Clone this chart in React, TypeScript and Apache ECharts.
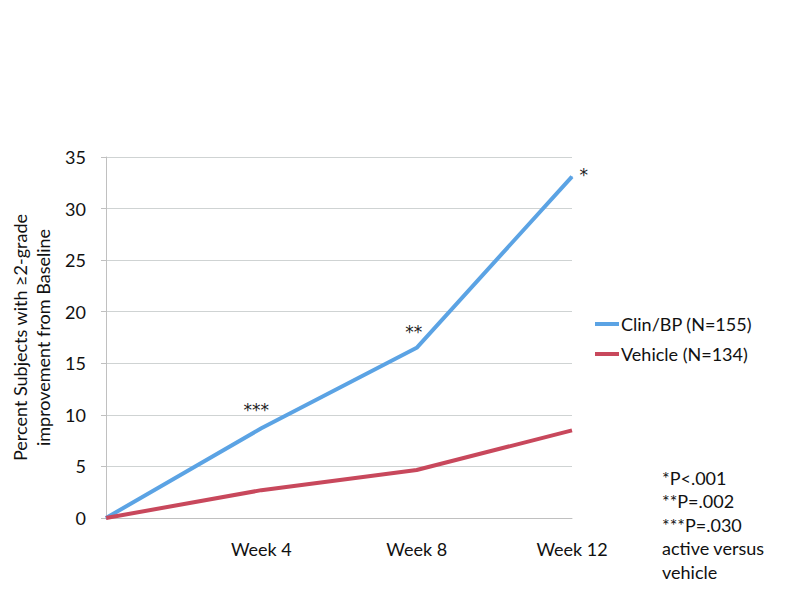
import React, { useEffect, useRef } from "react";
import * as echarts from "echarts";

const categories = ["", "Week 4", "Week 8", "Week 12"];
const clinValues = [0, 8.7, 16.5, 33.1];
const vehicleValues = [0, 2.7, 4.65, 8.5];
const clinMarks = ["", "***", "**", "*"];
const seriesNames = ["Clin/BP (N=155)", "Vehicle (N=134)"];
const noteLines = ["*P<.001", "**P=.002", "***P=.030", "active versus", "vehicle"];

const FONT = "Lato";

export default function App() {
  const ref = useRef<HTMLDivElement>(null);
  useEffect(() => {
    if (!ref.current) return;
    const chart = echarts.init(ref.current, undefined, { renderer: "svg" });
    const markCfg: any[] = [
      null,
      { position: "top", offset: [-5, -4] },
      { position: "top", offset: [-3, -2] },
      { position: "right", offset: [2, -2] },
    ];
    const clinData = clinValues.map((v, i) =>
      clinMarks[i]
        ? {
            value: v,
            label: {
              show: true,
              formatter: clinMarks[i],
              color: "#222",
              fontSize: 17,
              fontFamily: "DejaVu Sans",
              ...markCfg[i],
            },
          }
        : v
    );
    chart.setOption({
      animation: false,
      backgroundColor: "#ffffff",
      textStyle: { fontFamily: FONT },
      grid: { left: 100, right: 228, top: 157, bottom: 82 },
      legend: {
        orient: "vertical",
        left: 590,
        top: 310,
        itemWidth: 24,
        itemHeight: 4,
        itemGap: 12,
        icon: "rect",
        textStyle: { fontFamily: FONT, fontSize: 18, color: "#111", padding: [0, 0, 0, -3] },
        data: seriesNames,
      },
      xAxis: {
        type: "category",
        data: categories,
        boundaryGap: false,
        axisLine: { lineStyle: { color: "#c0c0c0", width: 1 } },
        axisTick: { show: false },
        axisLabel: { color: "#111", fontSize: 18, fontFamily: FONT, margin: 22, interval: 0 },
      },
      yAxis: {
        type: "value",
        min: 0,
        max: 35,
        interval: 5,
        name: "Percent Subjects with ≥2-grade\nimprovement from Baseline",
        nameLocation: "middle",
        nameGap: 52,
        nameTextStyle: { color: "#111", fontSize: 18, fontFamily: FONT, lineHeight: 23 },
        axisLine: { show: true, lineStyle: { color: "#c0c0c0", width: 1 } },
        axisTick: { show: true, length: 5, lineStyle: { color: "#c0c0c0" } },
        axisLabel: { color: "#111", fontSize: 18, fontFamily: FONT, margin: 20 },
        splitLine: { lineStyle: { color: "#cfd3d3", width: 1 } },
      },
      series: [
        {
          name: seriesNames[0],
          type: "line",
          data: clinData,
          symbol: "circle",
          symbolSize: 1,
          showSymbol: true,
          lineStyle: { color: "#5ba3e4", width: 4 },
          itemStyle: { color: "#5ba3e4" },
        },
        {
          name: seriesNames[1],
          type: "line",
          data: vehicleValues,
          symbol: "none",
          lineStyle: { color: "#c8485c", width: 4 },
          itemStyle: { color: "#c8485c" },
        },
      ],
      graphic: [
        {
          type: "text",
          left: 662,
          top: 466,
          style: {
            text: noteLines.join("\n"),
            font: `18px ${FONT}`,
            fill: "#111",
            lineHeight: 23.5,
          },
        },
      ],
    });
    return () => chart.dispose();
  }, []);
  return <div ref={ref} style={{ width: 800, height: 600, position: "absolute", left: 0, top: 0 }} />;
}
